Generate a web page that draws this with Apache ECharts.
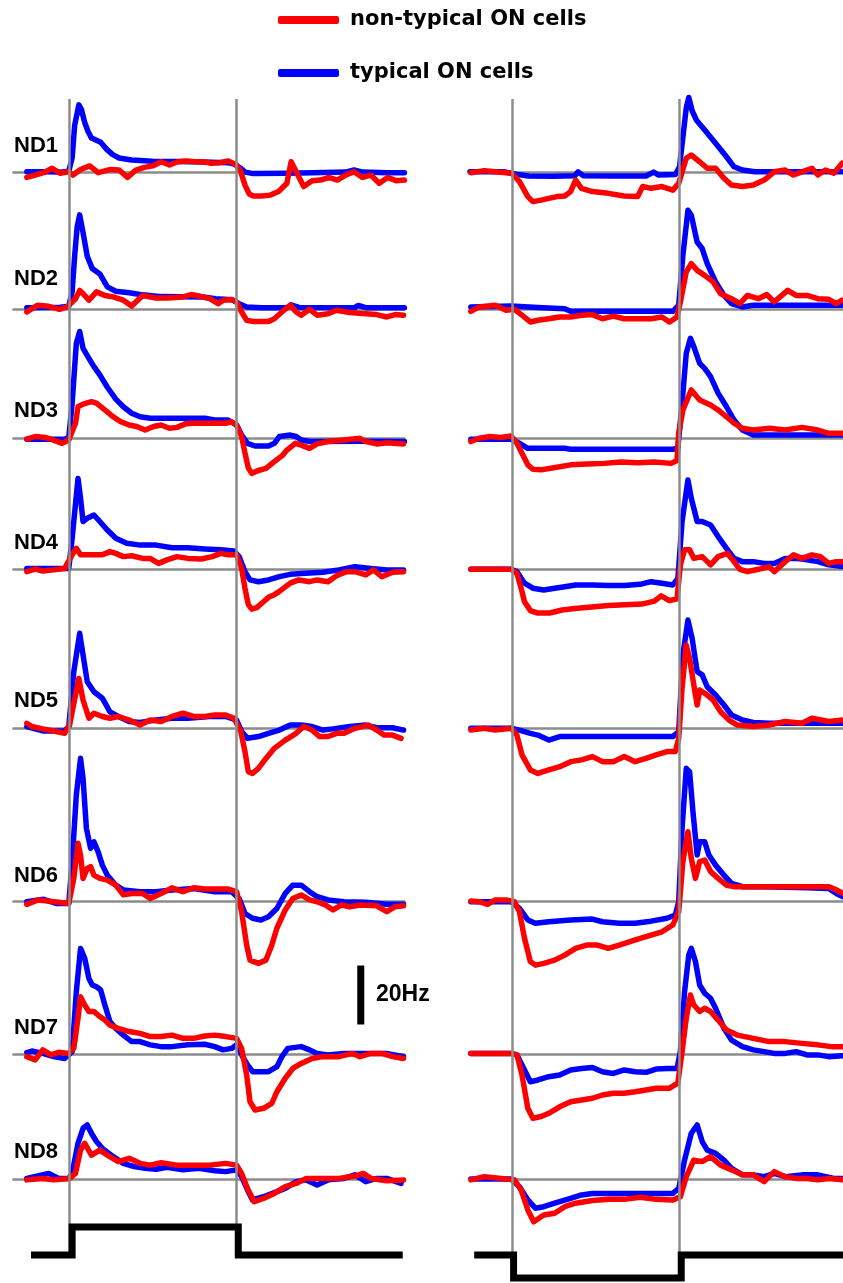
<!DOCTYPE html>
<html><head><meta charset="utf-8">
<script src="https://cdn.jsdelivr.net/npm/echarts@6/dist/echarts.min.js"></script>
<style>html,body{margin:0;padding:0;background:#fff}#chart{width:843px;height:1283px}</style>
</head><body><div id="chart"></div>
<script>
// ---------- labels ----------
const rowLabels = ['ND1','ND2','ND3','ND4','ND5','ND6','ND7','ND8'];
const legendNames = ['non-typical ON cells','typical ON cells'];
const scaleBarLabel = '20Hz';
const scaleBarHz = [10, 30];      // 20 Hz bar, drawn in ND7 light-step panel
const scaleBarTime = 3.48;
const stimulusOnTimes = [0, 2];   // s, vertical reference lines

// ---------- stimulus traces ----------
const stimIncT = [-0.45, 0.04, 0.04, 2.02, 2.02, 3.98];
const stimIncLevel = [0, 0, 1, 1, 0, 0];
const stimDecT = [-0.45, 0.02, 0.02, 2.02, 2.02, 3.95];
const stimDecLevel = [0, 0, -1, -1, 0, 0];

// ---------- firing rates [time s, rate Hz] ----------
// light increment (left column)
const nd1IncBlue = [[-0.5,0.3],[-0.3,0.3],[-0.1,0.2],[0,0.5],[0.04,5],[0.07,16],[0.12,23],[0.15,21.5],[0.19,17],[0.23,14],[0.27,11.8],[0.33,11],[0.38,10.3],[0.45,8],[0.52,6.2],[0.6,5],[0.75,4.3],[1.0,3.9],[1.3,3.8],[1.6,3.6],[1.9,3.4],[1.98,2.8],[2.05,1.5],[2.1,0.2],[2.2,-0.3],[2.6,-0.2],[2.9,0],[3.3,0.2],[3.4,0.9],[3.5,0.2],[3.8,0],[4.0,0]];
const nd1IncRed = [[-0.5,-1.6],[-0.4,-0.8],[-0.3,0],[-0.2,1.5],[-0.1,-0.2],[0,0.3],[0.05,-0.8],[0.14,1.1],[0.25,2.3],[0.35,0],[0.5,1.1],[0.6,0.9],[0.7,-1.6],[0.8,0.9],[0.9,1.8],[1.0,2.3],[1.1,3.7],[1.2,2.6],[1.3,3.7],[1.4,4],[1.5,3.7],[1.6,3.7],[1.7,3.2],[1.8,3.4],[1.9,4],[2.0,2.6],[2.05,0.3],[2.1,-4.2],[2.15,-7.2],[2.2,-7.9],[2.3,-7.9],[2.4,-7.6],[2.5,-6.4],[2.6,-3.6],[2.65,3.7],[2.7,0.9],[2.8,-4.7],[2.9,-2.7],[3.0,-2.5],[3.1,-1.6],[3.2,-2.5],[3.3,-0.8],[3.4,0.3],[3.5,-1.6],[3.6,-0.8],[3.7,-3.6],[3.8,-1.6],[3.9,-2.7],[4.0,-2.5]];
const nd2IncBlue = [[-0.5,0.5],[-0.1,0.7],[0,1],[0.04,6],[0.07,18],[0.1,28],[0.13,32],[0.17,26],[0.22,18],[0.28,13.8],[0.37,12],[0.46,7.6],[0.56,6.1],[0.72,5.6],[0.85,5],[1.1,4.3],[1.6,4.2],[1.75,3.6],[1.95,3.2],[2.03,1.9],[2.12,0.8],[2.3,0.5],[2.6,0.5],[2.65,1.5],[2.75,0.6],[3.4,0.5],[3.45,1.3],[3.55,0.5],[4.0,0.5]];
const nd2IncRed = [[-0.5,-0.9],[-0.37,1.4],[-0.24,1.0],[-0.11,0],[-0.02,0.8],[0.08,3.6],[0.13,6.4],[0.17,5.3],[0.24,3.1],[0.33,5.9],[0.43,4.7],[0.53,4.2],[0.65,3.1],[0.75,1.1],[0.88,4.7],[1.04,3.8],[1.17,3.8],[1.36,4.2],[1.46,5.0],[1.55,4.5],[1.68,3.6],[1.78,1.9],[1.84,3.1],[1.94,3.3],[2.0,2.5],[2.06,-0.9],[2.12,-3.7],[2.19,-4.1],[2.38,-4.1],[2.45,-3.2],[2.54,-0.9],[2.64,1.4],[2.71,-0.9],[2.77,-2],[2.87,0],[2.96,-2],[3.09,-1.5],[3.19,-0.3],[3.35,-1.1],[3.54,-1.5],[3.67,-1.8],[3.79,-2.6],[3.89,-1.8],[3.99,-2]];
const nd3IncBlue = [[-0.5,-0.3],[-0.05,-0.3],[0,0.3],[0.04,11.9],[0.09,32.2],[0.13,36.2],[0.17,30.5],[0.24,27.1],[0.3,24.3],[0.37,21.5],[0.46,17.3],[0.56,13.3],[0.65,10.7],[0.75,8.5],[0.85,7.3],[0.97,6.8],[1.62,6.8],[1.74,6.2],[1.9,6.2],[2.0,4.5],[2.06,1.1],[2.13,-1.7],[2.22,-2.6],[2.38,-2.6],[2.45,-1.7],[2.51,0.6],[2.64,1.1],[2.71,0.6],[2.77,-0.6],[2.87,-1.1],[3.5,-1.0],[4.0,-1.1]];
const nd3IncRed = [[-0.5,-0.3],[-0.4,0.6],[-0.28,0.3],[-0.18,-0.6],[-0.08,-1.7],[0,-0.6],[0.08,5.1],[0.11,10.7],[0.17,11.6],[0.27,12.4],[0.33,11.9],[0.43,9.6],[0.53,7.3],[0.62,5.6],[0.72,4.5],[0.81,4.0],[0.91,2.8],[1.01,4.0],[1.1,4.5],[1.2,3.4],[1.29,3.7],[1.39,4.9],[1.49,5.1],[1.87,5.1],[1.94,5.6],[2.0,4.5],[2.06,0.6],[2.1,-5],[2.14,-10],[2.18,-11.9],[2.25,-11],[2.35,-10.2],[2.45,-7.9],[2.55,-5.7],[2.6,-4],[2.7,-1.7],[2.77,-2.3],[2.87,-3.4],[2.96,-1.9],[3.09,-1.1],[3.28,-0.6],[3.47,0],[3.54,-1.1],[3.67,-1.9],[3.8,-1.5],[3.99,-1.9]];
const nd4IncBlue = [[-0.5,0.3],[0,0.3],[0.04,10.5],[0.11,30.8],[0.14,24.1],[0.17,16.2],[0.22,17.3],[0.3,18.4],[0.37,16.2],[0.46,13.3],[0.56,10.5],[0.69,8.8],[0.85,8.2],[1.04,8.2],[1.23,7.3],[1.42,7.3],[1.62,6.9],[1.81,6.6],[1.97,6.2],[2.03,4.3],[2.1,-0.8],[2.16,-3.6],[2.26,-4.2],[2.38,-3.6],[2.51,-2.5],[2.64,-1.7],[2.77,-1.4],[3.03,-1.0],[3.22,-0.2],[3.41,0.9],[3.6,0.3],[3.79,-0.2],[3.99,-0.2]];
const nd4IncRed = [[-0.5,-0.8],[-0.4,0.1],[-0.31,-0.6],[-0.18,-0.2],[-0.05,0.3],[0.04,4.9],[0.09,7.1],[0.14,4.9],[0.4,4.9],[0.49,6.0],[0.56,5.4],[0.65,4.3],[0.75,4.6],[0.88,3.7],[0.97,3.7],[1.07,2.0],[1.17,3.2],[1.29,4.3],[1.42,3.7],[1.58,3.5],[1.71,4.3],[1.81,5.4],[1.9,4.9],[2.0,4.9],[2.06,0.3],[2.1,-6.4],[2.14,-12],[2.18,-13.5],[2.24,-13],[2.3,-11.5],[2.38,-9.5],[2.45,-8.6],[2.51,-7.5],[2.64,-4.7],[2.74,-3.6],[2.87,-4.2],[2.96,-3.6],[3.09,-4.2],[3.19,-2.2],[3.31,-0.8],[3.41,-0.8],[3.54,-1.9],[3.63,-0.2],[3.73,-2.5],[3.86,-1.0],[3.99,-0.8]];
const nd5IncBlue = [[-0.5,0.6],[-0.31,-0.9],[-0.05,-0.9],[0,0.6],[0.06,19.2],[0.13,32.2],[0.17,24.9],[0.22,15.8],[0.3,12.4],[0.4,10.2],[0.49,5.6],[0.59,4.0],[0.72,2.3],[0.85,2.0],[1.04,2.8],[1.23,3.4],[1.42,3.4],[1.68,4.0],[1.87,4.0],[2.0,2.8],[2.06,-1.1],[2.13,-3.4],[2.26,-2.8],[2.38,-1.7],[2.51,-0.6],[2.64,1.1],[2.77,1.1],[2.9,0.6],[3.03,-0.6],[3.15,-0.2],[3.35,0.6],[3.54,1.1],[3.67,0.2],[3.86,0.2],[3.99,-0.6]];
const nd5IncRed = [[-0.5,1.7],[-0.44,0.6],[-0.31,-0.2],[-0.18,-0.9],[-0.05,-1.7],[0.01,1.1],[0.08,11.3],[0.12,16.9],[0.17,9.6],[0.24,3.4],[0.3,5.1],[0.4,4.0],[0.49,3.4],[0.59,4.0],[0.72,2.8],[0.85,1.1],[0.97,2.8],[1.1,2.3],[1.23,4.0],[1.36,5.1],[1.49,4.0],[1.62,4.0],[1.74,4.5],[1.87,4.5],[1.97,3.4],[2.05,-1.1],[2.1,-7.9],[2.14,-14.7],[2.19,-15.3],[2.26,-13.6],[2.35,-10.2],[2.45,-6.8],[2.58,-4.0],[2.71,-1.7],[2.8,0.6],[2.9,-0.6],[2.99,-2.8],[3.09,-2.8],[3.19,-1.7],[3.28,-1.7],[3.41,0],[3.57,1.1],[3.67,-0.6],[3.76,-2.3],[3.86,-2.3],[3.96,-3.4]];
const nd6IncBlue = [[-0.5,0],[-0.3,0.8],[-0.15,-0.6],[0,-0.6],[0.04,13.6],[0.09,36.2],[0.14,48.6],[0.17,41.8],[0.21,24.9],[0.26,18.1],[0.3,20.3],[0.35,16.9],[0.4,12.4],[0.46,9.0],[0.56,5.6],[0.65,4.0],[0.85,3.4],[1.04,3.4],[1.23,4.0],[1.49,4.5],[1.74,3.4],[1.94,3.4],[2.03,1.1],[2.1,-4.0],[2.19,-5.6],[2.29,-6.2],[2.38,-5.1],[2.48,-2.3],[2.58,2.8],[2.67,5.6],[2.77,5.6],[2.87,3.4],[2.96,1.7],[3.09,0.6],[3.28,0],[3.54,-0.2],[3.79,-0.9],[3.99,-0.9]];
const nd6IncRed = [[-0.5,-0.9],[-0.37,0.6],[-0.24,0.2],[-0.12,-0.2],[0,-0.6],[0.06,7.9],[0.11,19.8],[0.14,15.8],[0.17,7.9],[0.22,11.3],[0.26,11.9],[0.3,9.0],[0.37,7.9],[0.46,7.3],[0.56,5.6],[0.65,2.3],[0.75,2.8],[0.88,2.8],[0.97,1.1],[1.1,2.8],[1.23,4.7],[1.36,3.4],[1.49,4.7],[1.62,4.3],[1.74,4.3],[1.9,4.3],[2.0,3.4],[2.06,-3.4],[2.12,-14.7],[2.16,-19.8],[2.26,-20.9],[2.35,-19.8],[2.42,-14.7],[2.48,-9.0],[2.58,-2.8],[2.67,1.1],[2.77,2.3],[2.87,0.6],[2.96,0],[3.06,-1.1],[3.15,-2.8],[3.25,-1.1],[3.35,-1.7],[3.47,-1.1],[3.67,-1.4],[3.79,-3.4],[3.89,-1.7],[3.99,-1.4]];
const nd7IncBlue = [[-0.5,0.5],[-0.44,1.0],[-0.31,0.2],[-0.18,-0.9],[-0.05,-1.5],[0.04,0.8],[0.09,21.1],[0.14,35.8],[0.19,32.4],[0.24,25.6],[0.28,23.4],[0.33,22.8],[0.38,21.7],[0.43,16.6],[0.49,11.0],[0.56,8.7],[0.65,6.4],[0.75,4.2],[0.85,4.2],[0.97,3.1],[1.1,2.5],[1.23,2.5],[1.42,3.1],[1.62,3.3],[1.74,2.5],[1.84,1.4],[1.94,1.9],[2.0,3.1],[2.06,-0.3],[2.13,-3.7],[2.19,-6.0],[2.38,-6.0],[2.48,-4.3],[2.54,-0.9],[2.61,1.9],[2.77,2.5],[2.87,1.4],[2.96,0.2],[3.09,-0.3],[3.28,0.2],[3.54,0.2],[3.79,0.2],[3.99,-0.9]];
const nd7IncRed = [[-0.5,-0.9],[-0.4,-2.0],[-0.31,1.4],[-0.21,-0.3],[-0.12,0.6],[0,0.2],[0.06,1.9],[0.11,12.1],[0.14,19.4],[0.19,16.6],[0.24,14.4],[0.3,14.4],[0.37,12.7],[0.43,11.5],[0.49,9.8],[0.59,8.7],[0.72,7.6],[0.85,7.0],[0.97,5.9],[1.1,5.9],[1.23,6.4],[1.36,5.3],[1.49,5.3],[1.62,6.1],[1.74,6.4],[1.87,5.9],[2.0,5.3],[2.06,1.9],[2.12,-7.1],[2.16,-16.2],[2.22,-19.0],[2.32,-18.4],[2.42,-16.7],[2.48,-12.8],[2.58,-8.2],[2.67,-4.9],[2.77,-3.2],[2.9,-1.5],[3.03,-0.9],[3.22,-0.9],[3.38,0.2],[3.47,-0.9],[3.6,0.2],[3.73,0.2],[3.86,-0.9],[3.99,-1.5]];
const nd8IncBlue = [[-0.5,0.2],[-0.24,1.9],[-0.12,0.2],[0,0.2],[0.04,1.9],[0.11,12.1],[0.17,17.2],[0.22,18.3],[0.27,15.5],[0.33,12.7],[0.4,10.4],[0.53,7.6],[0.65,5.3],[0.78,4.2],[0.91,3.6],[1.04,3.3],[1.17,4.0],[1.36,3.1],[1.55,3.6],[1.74,2.8],[1.87,2.5],[2.0,3.1],[2.06,0.8],[2.13,-3.7],[2.19,-7.1],[2.32,-6.0],[2.45,-4.6],[2.58,-3.2],[2.71,-0.9],[2.83,-0.3],[2.96,-2.0],[3.09,-0.3],[3.28,0.2],[3.41,1.4],[3.54,-0.9],[3.67,0.2],[3.79,0.2],[3.96,-1.5]];
const nd8IncRed = [[-0.5,-0.3],[-0.31,0.2],[-0.18,-0.3],[0.01,0.2],[0.08,1.9],[0.14,9.8],[0.19,12.1],[0.27,8.1],[0.37,9.8],[0.46,8.1],[0.59,5.9],[0.72,7.0],[0.85,5.3],[0.97,4.7],[1.1,5.5],[1.29,4.7],[1.49,4.7],[1.68,4.7],[1.87,5.3],[2.0,4.7],[2.06,1.9],[2.13,-3.2],[2.21,-7.7],[2.32,-6.6],[2.45,-4.9],[2.58,-2.6],[2.71,-1.5],[2.83,0.2],[3.03,0.2],[3.22,0.2],[3.41,1.0],[3.51,1.9],[3.6,0.2],[3.79,-0.6],[3.99,-0.3]];

// light decrement (right column)
const nd1DecBlue = [[-0.5,0.3],[-0.1,0.3],[0.05,-0.5],[0.2,-1.1],[0.5,-1.2],[0.75,-1],[0.79,0.3],[0.85,-1],[1.2,-1.1],[1.6,-1.1],[1.69,0.2],[1.75,-0.8],[1.95,-0.6],[2.0,2],[2.04,12],[2.08,22],[2.11,25.5],[2.15,21],[2.2,17.9],[2.3,14.5],[2.43,10],[2.56,5.4],[2.65,2],[2.75,0.9],[2.9,0.3],[3.95,0.3]];
const nd1DecRed = [[-0.49,0],[-0.33,0.7],[-0.2,0.3],[0,-0.2],[0.09,-3],[0.19,-8.1],[0.25,-9.8],[0.35,-9.3],[0.44,-8.7],[0.54,-8.1],[0.63,-7.9],[0.7,-6.4],[0.76,-2.5],[0.83,-5.3],[0.96,-6.4],[1.15,-7],[1.34,-7.9],[1.5,-8.1],[1.56,-4.7],[1.66,-5.3],[1.79,-4.7],[1.92,-5.9],[1.99,-3.6],[2.08,4.9],[2.14,6],[2.24,3.7],[2.33,1.5],[2.43,1.5],[2.53,-1.9],[2.62,-4.2],[2.75,-4.7],[2.88,-4.2],[3.01,-2.5],[3.13,0.3],[3.26,0.9],[3.36,-0.8],[3.46,0.3],[3.58,1.5],[3.65,-0.8],[3.74,0.9],[3.84,-0.2],[3.94,3.2]];
const nd2DecBlue = [[-0.49,0.8],[-0.01,1.1],[0.31,0.6],[0.63,0.2],[0.7,-0.7],[1.92,-0.7],[1.99,1.4],[2.04,18.3],[2.1,33.6],[2.14,31.9],[2.21,22.8],[2.27,20.6],[2.33,15.5],[2.43,9.3],[2.53,4.7],[2.62,1.9],[2.75,0.8],[2.88,1.4],[3.95,1.4]];
const nd2DecRed = [[-0.49,-0.7],[-0.39,0.8],[-0.2,1.4],[-0.07,-0.3],[0.03,0],[0.12,-2],[0.22,-4.3],[0.31,-3.7],[0.44,-3.2],[0.57,-2.6],[0.7,-2.6],[0.83,-2],[0.96,-1.8],[1.08,-3.2],[1.21,-2.3],[1.34,-3.2],[1.5,-3.2],[1.66,-3.2],[1.79,-2.6],[1.88,-4.3],[1.97,-2.6],[2.01,2.5],[2.08,12.7],[2.14,15.5],[2.21,13.2],[2.3,11.5],[2.4,9.3],[2.49,5.3],[2.62,3.6],[2.72,1.9],[2.81,4.7],[2.94,3.6],[3.04,5.0],[3.13,2.5],[3.29,6.4],[3.39,4.7],[3.52,4.7],[3.65,3.6],[3.78,3.4],[3.87,1.9],[3.94,3.1]];
const nd3DecBlue = [[-0.49,-0.3],[-0.01,-0.3],[0.09,-1.7],[0.19,-3.4],[0.63,-3.4],[0.7,-3.7],[1.92,-3.7],[1.98,-3.4],[2.03,11.9],[2.08,28.8],[2.13,33.9],[2.17,31.1],[2.24,25.4],[2.3,23.7],[2.37,20.9],[2.46,15.3],[2.56,10.7],[2.65,6.2],[2.75,2.8],[2.88,1.1],[3.95,1.1]];
const nd3DecRed = [[-0.49,-1.1],[-0.39,0],[-0.26,0.6],[-0.13,0.3],[-0.01,0.8],[0.06,-1.7],[0.12,-5.1],[0.19,-9],[0.25,-10.5],[0.35,-10.7],[0.5,-10],[0.7,-9],[0.9,-8.7],[1.1,-8.5],[1.3,-8],[1.5,-8.3],[1.7,-8],[1.9,-8.5],[1.97,-7.5],[1.99,1.7],[2.04,9.6],[2.14,16.4],[2.24,13],[2.37,11.3],[2.46,9.6],[2.56,7.3],[2.65,5.1],[2.75,3.4],[2.88,2.8],[3.07,3.4],[3.26,2.8],[3.46,3.7],[3.65,2.8],[3.78,1.7],[3.95,1.7]];
const nd4DecBlue = [[-0.49,0],[-0.01,0],[0.06,-0.8],[0.15,-4.7],[0.25,-6.4],[0.38,-7.0],[0.51,-6.4],[0.63,-5.9],[0.76,-5.3],[0.96,-5.3],[1.15,-5.5],[1.34,-5.5],[1.53,-5.1],[1.66,-4.2],[1.79,-4.7],[1.92,-5.3],[1.98,-3.1],[2.03,16.2],[2.1,30.3],[2.14,24.1],[2.21,16.2],[2.27,16.2],[2.37,15.0],[2.46,11.1],[2.56,7.1],[2.65,3.7],[2.75,2.6],[2.88,2.6],[3.01,2.0],[3.13,2.0],[3.26,3.7],[3.39,3.7],[3.52,3.2],[3.65,2.6],[3.78,1.5],[3.95,0.9]];
const nd4DecRed = [[-0.49,0],[-0.01,0],[0.06,-1.4],[0.11,-6.4],[0.15,-11],[0.22,-14],[0.3,-14.8],[0.45,-14.8],[0.6,-13.8],[0.75,-13.3],[0.95,-12.8],[1.15,-12.3],[1.35,-12],[1.55,-11.8],[1.7,-10.8],[1.78,-9],[1.88,-10.6],[1.97,-10],[2.01,1.5],[2.06,6.6],[2.12,6.6],[2.17,3.7],[2.27,4.3],[2.37,1.5],[2.46,4.3],[2.57,5.4],[2.62,3.7],[2.72,0],[2.81,-0.8],[2.94,0],[3.07,0.9],[3.13,-0.8],[3.26,2.6],[3.36,4.9],[3.46,3.7],[3.58,4.9],[3.68,4.3],[3.78,2.0],[3.87,2.6],[3.95,2.6]];
const nd5DecBlue = [[-0.49,0],[-0.01,0],[0.09,-0.6],[0.22,-1.7],[0.31,-2.3],[0.44,-4.0],[0.57,-2.8],[1.0,-2.8],[1.5,-2.8],[1.92,-2.8],[1.99,-1.1],[2.04,24.9],[2.1,36.7],[2.15,30.5],[2.21,19.2],[2.27,18.1],[2.33,14.1],[2.43,11.3],[2.53,7.9],[2.62,4.5],[2.75,2.8],[2.88,2.0],[3.07,1.7],[3.95,1.7]];
const nd5DecRed = [[-0.49,-0.6],[-0.33,0],[-0.2,-0.6],[-0.01,0],[0.06,-2.3],[0.12,-9.0],[0.22,-14.1],[0.31,-15.3],[0.44,-14.1],[0.57,-13.0],[0.7,-11.3],[0.83,-10.7],[0.96,-9.6],[1.08,-11.3],[1.21,-11.3],[1.34,-9.6],[1.47,-11.3],[1.6,-10.2],[1.72,-9.0],[1.85,-7.9],[1.95,-7.9],[1.99,-3.4],[2.03,13.6],[2.08,28.2],[2.12,23.7],[2.17,14.7],[2.21,7.9],[2.24,13.0],[2.3,11.9],[2.4,9.6],[2.49,5.6],[2.59,2.8],[2.69,1.1],[2.88,0.6],[3.07,1.1],[3.26,2.3],[3.46,1.7],[3.58,3.4],[3.78,2.3],[3.95,2.8]];
const nd6DecBlue = [[-0.49,0],[-0.01,0],[0.09,-2.3],[0.19,-6.2],[0.28,-7.3],[0.44,-6.8],[0.7,-6.2],[0.96,-5.9],[1.08,-6.8],[1.28,-7.3],[1.47,-7.3],[1.66,-6.6],[1.85,-5.6],[1.95,-4.5],[1.99,0],[2.03,24.9],[2.08,45.2],[2.12,44.1],[2.16,30.5],[2.21,15.8],[2.24,20.3],[2.3,20.3],[2.35,15.8],[2.43,12.4],[2.53,9.0],[2.62,6.2],[2.75,5.1],[3.01,5.1],[3.52,4.7],[3.78,4.5],[3.87,2.8],[3.95,1.7]];
const nd6DecRed = [[-0.49,0.2],[-0.39,0],[-0.29,-0.9],[-0.2,0.6],[-0.07,0.6],[0.03,0],[0.09,-3.4],[0.15,-12.4],[0.22,-20.3],[0.28,-21.5],[0.38,-20.9],[0.51,-19.8],[0.63,-18.1],[0.76,-15.8],[0.89,-14.7],[1.02,-14.7],[1.15,-15.8],[1.28,-14.7],[1.4,-13.6],[1.53,-12.4],[1.66,-11.3],[1.79,-10.2],[1.92,-7.9],[1.99,-3.4],[2.04,13.6],[2.1,23.7],[2.14,14.7],[2.19,7.9],[2.24,13.6],[2.3,14.1],[2.37,10.2],[2.46,7.9],[2.56,5.6],[2.65,5.1],[3.78,5.1],[3.87,4.0],[3.95,2.8]];
const nd7DecBlue = [[-0.49,0.2],[-0.01,0.2],[0.06,-0.3],[0.12,-3.7],[0.22,-9.4],[0.31,-8.8],[0.44,-7.7],[0.57,-7.1],[0.7,-5.4],[0.83,-4.9],[0.96,-4.6],[1.08,-6.0],[1.21,-6.6],[1.34,-5.4],[1.47,-6.0],[1.6,-6.2],[1.72,-5.1],[1.85,-4.9],[1.97,-4.9],[2.01,0.8],[2.06,21.1],[2.11,33.6],[2.14,35.8],[2.19,31.3],[2.24,23.4],[2.3,20.6],[2.37,18.9],[2.43,15.5],[2.53,8.7],[2.62,4.7],[2.75,2.5],[2.88,1.4],[3.01,0.8],[3.13,0.2],[3.26,0.2],[3.39,0.8],[3.52,-0.3],[3.65,-0.3],[3.78,-0.9],[3.95,-0.6]];
const nd7DecRed = [[-0.49,0.2],[-0.01,0.2],[0.06,-0.3],[0.12,-7.1],[0.19,-18.4],[0.25,-21.8],[0.35,-21.2],[0.44,-20.1],[0.57,-17.9],[0.7,-16.2],[0.83,-15.6],[0.96,-15.0],[1.08,-13.9],[1.21,-13.3],[1.34,-13.3],[1.47,-12.8],[1.6,-12.2],[1.72,-11.6],[1.88,-11.6],[1.98,-9.9],[2.03,0.8],[2.08,12.1],[2.13,20.0],[2.17,16.6],[2.24,14.4],[2.3,15.5],[2.37,14.4],[2.46,11.5],[2.56,8.1],[2.69,6.4],[2.88,5.3],[3.07,4.2],[3.26,4.2],[3.46,3.6],[3.65,3.1],[3.81,2.5],[3.95,2.5]];
const nd8DecBlue = [[-0.49,0],[-0.01,0],[0.09,-2.6],[0.19,-7.1],[0.28,-9.9],[0.38,-9.4],[0.51,-8.2],[0.7,-6.6],[0.83,-5.4],[0.96,-4.9],[1.92,-4.9],[1.99,-3.2],[2.06,6.4],[2.14,15.5],[2.21,18.3],[2.27,12.7],[2.33,9.8],[2.43,8.7],[2.53,6.4],[2.62,3.6],[2.75,1.4],[2.88,1.4],[3.01,0.8],[3.13,1.9],[3.26,0.8],[3.46,1.4],[3.65,1.4],[3.84,0.2],[3.95,0.2]];
const nd8DecRed = [[-0.49,-0.3],[-0.33,0.8],[-0.13,0.2],[0.03,-0.3],[0.11,-3.7],[0.19,-10.5],[0.26,-14.5],[0.38,-12.2],[0.51,-11.6],[0.63,-9.4],[0.76,-8.2],[0.96,-7.3],[1.15,-6.9],[1.34,-6.9],[1.53,-6.2],[1.72,-6.9],[1.92,-7.1],[2.01,-6.0],[2.08,0.8],[2.17,6.4],[2.27,5.9],[2.37,7.6],[2.49,4.7],[2.62,3.1],[2.75,1.4],[2.88,1.4],[3.01,-0.9],[3.13,2.5],[3.26,0.8],[3.39,0.2],[3.52,0.2],[3.65,-0.3],[3.78,0.2],[3.95,-0.3]];

const incBlue = [nd1IncBlue,nd2IncBlue,nd3IncBlue,nd4IncBlue,nd5IncBlue,nd6IncBlue,nd7IncBlue,nd8IncBlue];
const incRed  = [nd1IncRed,nd2IncRed,nd3IncRed,nd4IncRed,nd5IncRed,nd6IncRed,nd7IncRed,nd8IncRed];
const decBlue = [nd1DecBlue,nd2DecBlue,nd3DecBlue,nd4DecBlue,nd5DecBlue,nd6DecBlue,nd7DecBlue,nd8DecBlue];
const decRed  = [nd1DecRed,nd2DecRed,nd3DecRed,nd4DecRed,nd5DecRed,nd6DecRed,nd7DecRed,nd8DecRed];

// ---------- layout ----------
const RED = '#ff0000', BLUE = '#0000ff', GRAY = '#8c8c8c';
const rowBaseY = [172.7, 309.3, 438.3, 569.3, 728.3, 901.7, 1054, 1179];
const rowLabelY = [145.7, 279, 411, 542.5, 701, 876, 1028, 1152];
const PX_PER_HZ = 2.95, Y_MIN = -35, Y_MAX = 55;
const LEFT = {left: 13.4, width: 391, min: -0.66, max: 4.0};
const RIGHT = {left: 470, width: 373, min: -0.5, max: 3.95};

const grids = [], xAxes = [], yAxes = [], series = [];
function addGrid(col, top, height, ymin, ymax, showBase) {
  grids.push({left: col.left, width: col.width, top: top, height: height, containLabel: false});
  const i = grids.length - 1;
  xAxes.push({gridIndex: i, type: 'value', min: col.min, max: col.max,
    axisLine: {show: showBase, onZero: true, lineStyle: {color: GRAY, width: 2.5}},
    axisTick: {show: false}, axisLabel: {show: false}, splitLine: {show: false}});
  yAxes.push({gridIndex: i, type: 'value', min: ymin, max: ymax,
    axisLine: {show: false}, axisTick: {show: false}, axisLabel: {show: false}, splitLine: {show: false}});
  return i;
}
function trace(idx, name, color, data, z, width) {
  series.push({type: 'line', name: name, xAxisIndex: idx, yAxisIndex: idx, data: data,
    showSymbol: false, symbol: 'none', clip: false, silent: true, z: z,
    lineStyle: {color: color, width: width || 5.5, cap: 'round', join: 'round'},
    itemStyle: {color: color}});
}

// vertical reference lines
[LEFT, RIGHT].forEach(function (col, k) {
  const f = addGrid(col, 99, k === 0 ? 1156 : 1179, 0, 1, false);
  series.push({type: 'line', xAxisIndex: f, yAxisIndex: f, data: [[0, 0]], symbol: 'none', silent: true, z: 1,
    lineStyle: {width: 0},
    markLine: {silent: true, symbol: ['none', 'none'], label: {show: false},
      lineStyle: {color: GRAY, width: 2.5, type: 'solid'},
      data: stimulusOnTimes.map(function (t) { return {xAxis: t}; })}});
});

// traces
const gridTop = function (b) { return b - Y_MAX * PX_PER_HZ; };
const gridH = (Y_MAX - Y_MIN) * PX_PER_HZ;
const leftIdx = [], rightIdx = [];
rowBaseY.forEach(function (b, r) {
  leftIdx.push(addGrid(LEFT, gridTop(b), gridH, Y_MIN, Y_MAX, true));
  rightIdx.push(addGrid(RIGHT, gridTop(b), gridH, Y_MIN, Y_MAX, true));
});
rowBaseY.forEach(function (b, r) {
  trace(leftIdx[r], legendNames[1], BLUE, incBlue[r], 3);
  trace(rightIdx[r], legendNames[1], BLUE, decBlue[r], 3);
});
rowBaseY.forEach(function (b, r) {
  trace(leftIdx[r], legendNames[0], RED, incRed[r], 4);
  trace(rightIdx[r], legendNames[0], RED, decRed[r], 4);
});

// scale bar in ND7 left panel
series.push({type: 'line', xAxisIndex: leftIdx[6], yAxisIndex: leftIdx[6],
  data: scaleBarHz.map(function (v) { return [scaleBarTime, v]; }),
  symbol: 'none', clip: false, silent: true, z: 5,
  lineStyle: {color: '#000', width: 7, cap: 'butt'}});

// stimulus traces
const sInc = addGrid(LEFT, 1227, 28, 0, 1, false);
const sDec = addGrid(RIGHT, 1255, 23, -1, 0, false);
series.push({type: 'line', xAxisIndex: sInc, yAxisIndex: sInc,
  data: stimIncT.map(function (t, i) { return [t, stimIncLevel[i]]; }),
  symbol: 'none', clip: false, silent: true, z: 5,
  lineStyle: {color: '#000', width: 7, cap: 'butt', join: 'miter'}});
series.push({type: 'line', xAxisIndex: sDec, yAxisIndex: sDec,
  data: stimDecT.map(function (t, i) { return [t, stimDecLevel[i]]; }),
  symbol: 'none', clip: false, silent: true, z: 5,
  lineStyle: {color: '#000', width: 7, cap: 'butt', join: 'miter'}});

const graphics = rowLabels.map(function (t, r) {
  return {type: 'text', x: 14, y: rowLabelY[r], silent: true,
    style: {text: t, fill: '#000', font: 'bold 22px "Liberation Sans", Arial, sans-serif',
      textAlign: 'left', textVerticalAlign: 'middle', verticalAlign: 'middle'}};
});
graphics.push({type: 'text', x: 376, y: 994.5, silent: true,
  style: {text: scaleBarLabel, fill: '#000', font: 'bold 23px "Liberation Sans", Arial, sans-serif',
    textAlign: 'left', textVerticalAlign: 'middle', verticalAlign: 'middle'}});

const chart = echarts.init(document.getElementById('chart'), null, {renderer: 'canvas'});
chart.setOption({
  animation: false,
  backgroundColor: '#ffffff',
  legend: {
    data: legendNames, orient: 'vertical', left: 278, top: 8, padding: 0,
    itemWidth: 61, itemHeight: 8, itemGap: 29, icon: 'roundRect', selectedMode: false,
    textStyle: {color: '#000', fontSize: 21, fontWeight: 'bold', fontFamily: 'DejaVu Sans',
      lineHeight: 24, padding: [0, 0, 0, 6]}
  },
  grid: grids, xAxis: xAxes, yAxis: yAxes, series: series, graphic: graphics
});
</script></body></html>
